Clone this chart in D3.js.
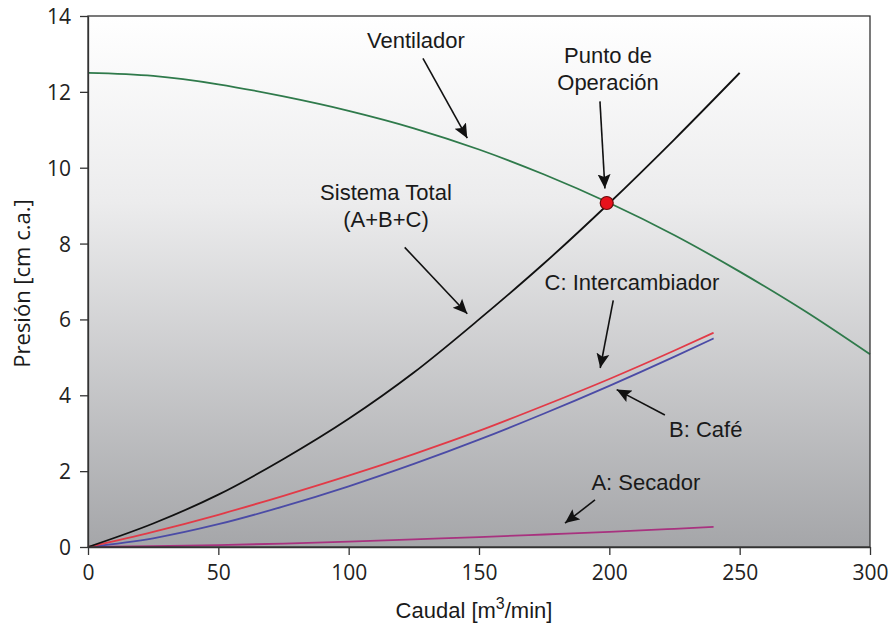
<!DOCTYPE html>
<html>
<head>
<meta charset="utf-8">
<script src="https://cdn.jsdelivr.net/npm/d3@7"></script>
<style>
  body { margin: 0; background: #fff; }
  .tick text { font-family: "Open Sans", sans-serif; font-size: 21px; fill: #222; }
  .note { font-family: "Liberation Sans", Arial, sans-serif; font-size: 22px; fill: #1a1a1a; }
</style>
</head>
<body>
<div id="chart"></div>
<script>
// caudal [m3/min] sampled along the curves
const qFan = [0, 25, 50, 75, 100, 125, 150, 175, 200, 225, 250, 275, 300];
const pFan = [12.5, 12.42, 12.2, 11.88, 11.5, 11.04, 10.48, 9.82, 9.07, 8.22, 7.26, 6.22, 5.08];

const qSys = [0, 25, 50, 75, 100, 125, 150, 175, 200, 225, 250];
const pSys = [0, 0.62, 1.38, 2.32, 3.38, 4.6, 6.0, 7.48, 9.07, 10.75, 12.5];

const qComp = [0, 25, 50, 75, 100, 125, 150, 175, 200, 225, 240];
const pC = [0, 0.4, 0.85, 1.35, 1.88, 2.45, 3.06, 3.73, 4.43, 5.18, 5.65];
const pB = [0, 0.23, 0.6, 1.07, 1.6, 2.19, 2.83, 3.52, 4.25, 5.02, 5.5];
const pA = [0, 0.02, 0.05, 0.09, 0.14, 0.2, 0.26, 0.33, 0.4, 0.48, 0.53];

const opPoint = [199, 9.07];

const xTicks = [0, 50, 100, 150, 200, 250, 300];
const yTicks = [0, 2, 4, 6, 8, 10, 12, 14];

// annotation labels and arrows, in data units
const notes = [
  { lines: ['Ventilador'], at: [125.8, 13.16], from: [128.5, 12.88], to: [145.5, 10.78] },
  { lines: ['Punto de', 'Operación'], at: [199.5, 12.76], from: [196.4, 11.75], to: [198.3, 9.45] },
  { lines: ['Sistema Total', '(A+B+C)'], at: [114.3, 9.15], from: [121.5, 7.9], to: [145.5, 6.15] },
  { lines: ['C: Intercambiador'], at: [208.7, 6.78], from: [201.5, 6.5], to: [196.5, 4.72] },
  { lines: ['B: Café'], at: [237, 2.9], from: [221.3, 3.48], to: [202.8, 4.15] },
  { lines: ['A: Secador'], at: [214, 1.5], from: [194.5, 1.24], to: [183, 0.63] }
];

const width = 893, height = 628;
const margin = { top: 16, right: 23, bottom: 81, left: 88 };
const plotW = width - margin.left - margin.right;
const plotH = height - margin.top - margin.bottom;

const svg = d3.select('#chart').append('svg')
  .attr('width', width).attr('height', height);

const defs = svg.append('defs');
const grad = defs.append('linearGradient').attr('id', 'bg')
  .attr('x1', 0).attr('y1', 0).attr('x2', 0).attr('y2', 1);
grad.append('stop').attr('offset', '0%').attr('stop-color', '#ffffff');
grad.append('stop').attr('offset', '35%').attr('stop-color', '#ececed');
grad.append('stop').attr('offset', '100%').attr('stop-color', '#a5a6a9');

defs.append('marker').attr('id', 'arrow')
  .attr('viewBox', '0 0 10 10').attr('refX', 10).attr('refY', 5)
  .attr('markerWidth', 9).attr('markerHeight', 9)
  .attr('markerUnits', 'strokeWidth')
  .attr('orient', 'auto')
  .append('path').attr('d', 'M0,0.5 L10,5 L0,9.5 L2,5 Z').attr('fill', '#111');

const g = svg.append('g').attr('transform', `translate(${margin.left},${margin.top})`);

const x = d3.scaleLinear().domain([0, 300]).range([0, plotW]);
const y = d3.scaleLinear().domain([0, 14]).range([plotH, 0]);

g.append('rect').attr('width', plotW).attr('height', plotH).attr('fill', 'url(#bg)');

const line = d3.line()
  .x(d => x(d[0])).y(d => y(d[1]))
  .curve(d3.curveMonotoneX);

const series = [
  { q: qComp, p: pA, color: '#a8327f' },
  { q: qComp, p: pB, color: '#4b4ba6' },
  { q: qComp, p: pC, color: '#e23a47' },
  { q: qSys, p: pSys, color: '#111111' },
  { q: qFan, p: pFan, color: '#2f7a4b' }
];

g.selectAll('.curve').data(series).enter().append('path')
  .attr('class', 'curve')
  .attr('d', s => line(s.q.map((v, i) => [v, s.p[i]])))
  .attr('fill', 'none')
  .attr('stroke', s => s.color)
  .attr('stroke-width', 1.8);

// frame
g.append('rect').attr('width', plotW).attr('height', plotH)
  .attr('fill', 'none').attr('stroke', '#333').attr('stroke-width', 1.3);

g.append('circle')
  .attr('cx', x(opPoint[0])).attr('cy', y(opPoint[1])).attr('r', 6.5)
  .attr('fill', '#e8121c').attr('stroke', '#6a0a0a').attr('stroke-width', 1.2);

// annotations
const ann = g.selectAll('.ann').data(notes).enter().append('g').attr('class', 'ann');
ann.append('line')
  .attr('x1', d => x(d.from[0])).attr('y1', d => y(d.from[1]))
  .attr('x2', d => x(d.to[0])).attr('y2', d => y(d.to[1]))
  .attr('stroke', '#111').attr('stroke-width', 1.6)
  .attr('marker-end', 'url(#arrow)');
ann.append('text').attr('class', 'note')
  .attr('x', d => x(d.at[0])).attr('y', d => y(d.at[1]))
  .attr('text-anchor', 'middle')
  .selectAll('tspan').data(d => d.lines.map(l => ({ l, cx: x(d.at[0]) }))).enter()
  .append('tspan')
  .attr('x', t => t.cx).attr('dy', (t, i) => i === 0 ? 0 : 27)
  .text(t => t.l);

// axes
const xAxis = g.append('g').attr('transform', `translate(0,${plotH})`)
  .call(d3.axisBottom(x).tickValues(xTicks).tickSize(8).tickPadding(10).tickSizeOuter(0));
const yAxis = g.append('g')
  .call(d3.axisLeft(y).tickValues(yTicks).tickSize(8).tickPadding(9).tickSizeOuter(0));
[xAxis, yAxis].forEach(a => {
  a.select('.domain').attr('stroke', '#333').attr('stroke-width', 1.3);
  a.selectAll('.tick line').attr('stroke', '#333').attr('stroke-width', 1.3);
});
yAxis.selectAll('.tick text').attr('dy', '0.36em');

svg.append('text')
  .attr('transform', `translate(30,${margin.top + plotH / 2 + 2}) rotate(-90)`)
  .attr('text-anchor', 'middle')
  .style('font-family', '"Open Sans", sans-serif').style('font-size', '22px').style('fill', '#1a1a1a')
  .text('Presión [cm c.a.]');

const xl = svg.append('text')
  .attr('x', margin.left + plotW / 2 - 5).attr('y', 618)
  .attr('text-anchor', 'middle')
  .style('font-family', '"Liberation Sans", Arial, sans-serif').style('font-size', '22px').style('fill', '#1a1a1a');
xl.append('tspan').text('Caudal [m');
xl.append('tspan').attr('dy', -9).style('font-size', '16px').text('3');
xl.append('tspan').attr('dy', 9).text('/min]');
</script>
</body>
</html>
